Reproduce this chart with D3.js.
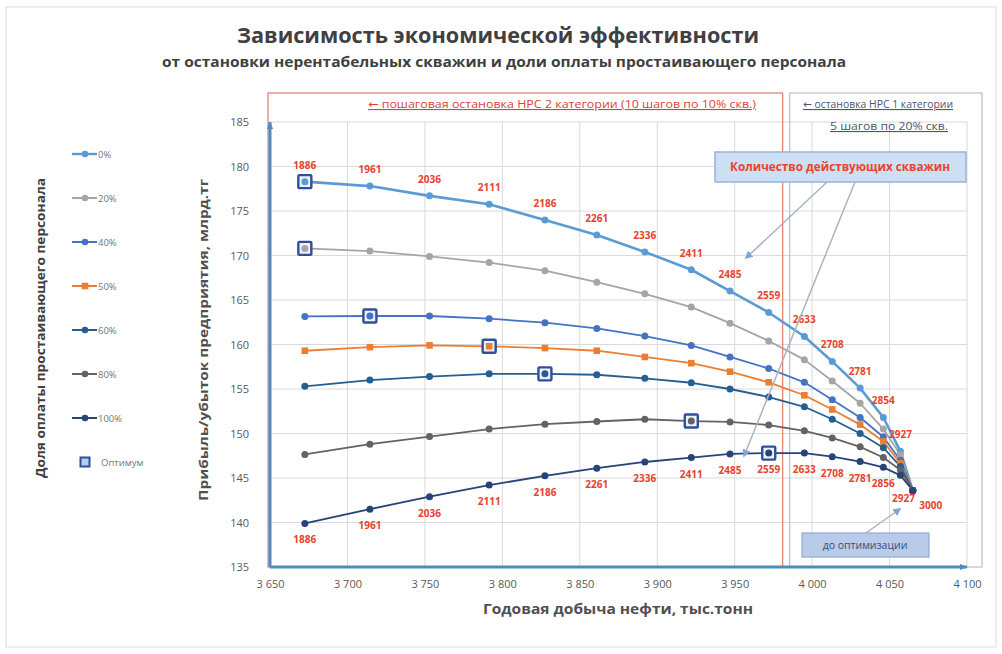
<!DOCTYPE html>
<html><head><meta charset="utf-8">
<script src="https://cdn.jsdelivr.net/npm/d3@7"></script>
<style>body{margin:0;background:#fff}svg{display:block}</style>
</head><body><svg id="c" width="1002" height="654"></svg>
<script>
// ---------- data ----------
const production = [3672.5, 3714.5, 3753, 3791.5, 3827.5, 3861, 3892, 3922, 3947, 3972, 3995, 4013, 4031, 4046, 4057, 4065];
const wells = [1886, 1961, 2036, 2111, 2186, 2261, 2336, 2411, 2485, 2559, 2633, 2708, 2781, 2854, 2927, 3000];
const shares = ["0%", "20%", "40%", "50%", "60%", "80%", "100%"];
const profit0   = [178.3, 177.8, 176.7, 175.75, 174.0, 172.3, 170.4, 168.4, 166.0, 163.6, 160.9, 158.1, 155.1, 151.8, 148.0, 143.6];
const profit20  = [170.8, 170.5, 169.9, 169.2, 168.3, 167.0, 165.7, 164.2, 162.4, 160.4, 158.3, 155.9, 153.4, 150.5, 147.6, 143.6];
const profit40  = [163.15, 163.2, 163.2, 162.9, 162.45, 161.8, 160.95, 159.9, 158.6, 157.3, 155.75, 153.8, 151.8, 149.6, 147.0, 143.6];
const profit50  = [159.3, 159.7, 159.9, 159.8, 159.6, 159.3, 158.6, 157.9, 156.95, 155.75, 154.3, 152.7, 151.0, 149.1, 146.65, 143.6];
const profit60  = [155.3, 156.0, 156.4, 156.7, 156.7, 156.6, 156.2, 155.7, 155.0, 154.1, 153.0, 151.6, 150.0, 148.4, 146.3, 143.6];
const profit80  = [147.65, 148.8, 149.65, 150.5, 151.05, 151.35, 151.6, 151.4, 151.3, 150.95, 150.3, 149.5, 148.5, 147.3, 145.9, 143.6];
const profit100 = [139.9, 141.5, 142.9, 144.2, 145.25, 146.1, 146.8, 147.3, 147.7, 147.8, 147.8, 147.4, 146.85, 146.2, 145.3, 143.6];
const optimumIdx = [0, 0, 1, 3, 4, 7, 9];
const yTicks = [135, 140, 145, 150, 155, 160, 165, 170, 175, 180, 185];
const xTicks = [3650, 3700, 3750, 3800, 3850, 3900, 3950, 4000, 4050, 4100];
const stage1Boundary = 3981;

// ---------- style ----------
const seriesValues = [profit0, profit20, profit40, profit50, profit60, profit80, profit100];
const colors = ["#5b9bd5", "#a5a5a5", "#4472c4", "#ed7d31", "#255e91", "#636363", "#264478"];
const widths = [2.6, 1.8, 1.8, 1.8, 1.8, 1.8, 1.8];
const NARROW = "'Open Sans','DejaVu Sans',sans-serif";
const BOLD = "'Open Sans','DejaVu Sans',sans-serif";
const RED = "#e8432e";

const svg = d3.select("#c");
const x = d3.scaleLinear().domain([3650, 4100]).range([270, 967]);
const y = d3.scaleLinear().domain([135, 185]).range([567, 122]);

svg.append("defs").html(`
 <marker id="arrBlue" viewBox="0 0 10 10" refX="9" refY="5" markerUnits="userSpaceOnUse" markerWidth="8" markerHeight="8" orient="auto"><path d="M0,1L10,5L0,9z" fill="#4f8db8"/></marker>
 <marker id="arrGrey" viewBox="0 0 10 10" refX="8" refY="5" markerUnits="userSpaceOnUse" markerWidth="8" markerHeight="8" orient="auto"><path d="M0,0L10,5L0,10z" fill="#7fa6d0"/></marker>`);

// outer frame
svg.append("rect").attr("x", 6).attr("y", 7).attr("width", 990).attr("height", 640)
  .attr("fill", "none").attr("stroke", "#dcdcdc");

// titles
svg.append("text").attr("x", 498).attr("y", 43).attr("text-anchor", "middle")
  .attr("font-family", BOLD).attr("font-weight", "bold").attr("font-size", 21).attr("fill", "#404040")
  .attr("textLength", 522).attr("lengthAdjust", "spacingAndGlyphs")
  .text("Зависимость экономической эффективности");
svg.append("text").attr("x", 504).attr("y", 67).attr("text-anchor", "middle")
  .attr("font-family", BOLD).attr("font-weight", "bold").attr("font-size", 13.5).attr("fill", "#404040")
  .attr("textLength", 684).attr("lengthAdjust", "spacingAndGlyphs")
  .text("от остановки нерентабельных скважин и доли оплаты простаивающего персонала");

// gridlines
const g = svg.append("g");
g.selectAll("line.h").data(yTicks.filter(d => d > 135)).join("line")
  .attr("x1", x(3650)).attr("x2", x(4100)).attr("y1", d => y(d)).attr("y2", d => y(d))
  .attr("stroke", "#dadada").attr("stroke-width", 1);
g.selectAll("line.v").data(xTicks.filter(d => d > 3650)).join("line")
  .attr("y1", y(185)).attr("y2", y(135)).attr("x1", d => x(d)).attr("x2", d => x(d))
  .attr("stroke", "#dadada").attr("stroke-width", 1);

// stage boxes
svg.append("rect").attr("x", 268).attr("y", 93).attr("width", x(stage1Boundary) - 268).attr("height", y(135) - 93)
  .attr("fill", "none").attr("stroke", "#e47a6c").attr("stroke-width", 1.2);
svg.append("rect").attr("x", x(stage1Boundary) + 7).attr("y", 93).attr("width", 982 - x(stage1Boundary) - 7).attr("height", y(135) - 93)
  .attr("fill", "none").attr("stroke", "#b8c0cc").attr("stroke-width", 1.2);

svg.append("text").attr("x", 562).attr("y", 108).attr("text-anchor", "middle")
  .attr("font-family", NARROW).attr("font-size", 11).attr("fill", "#d9433a")
  .attr("text-decoration", "underline")
  .attr("textLength", 388).attr("lengthAdjust", "spacingAndGlyphs")
  .text("← пошаговая остановка НРС 2 категории (10 шагов по 10% скв.)");
svg.append("text").attr("x", 878).attr("y", 108).attr("text-anchor", "middle")
  .attr("font-family", NARROW).attr("font-size", 11).attr("fill", "#4b5670")
  .attr("text-decoration", "underline")
  .attr("textLength", 150).attr("lengthAdjust", "spacingAndGlyphs")
  .text("← остановка НРС 1 категории");
svg.append("text").attr("x", 889).attr("y", 130).attr("text-anchor", "middle")
  .attr("font-family", NARROW).attr("font-size", 11).attr("fill", "#4b5670")
  .attr("text-decoration", "underline")
  .attr("textLength", 118).attr("lengthAdjust", "spacingAndGlyphs")
  .text("5 шагов по 20% скв.");

// axes (Excel-like with arrows)
svg.append("line").attr("x1", x(3650)).attr("x2", x(3650)).attr("y1", y(135)).attr("y2", y(185))
  .attr("stroke", "#4f8db8").attr("stroke-width", 3).attr("marker-end", "url(#arrBlue)");
svg.append("line").attr("x1", x(3650)).attr("x2", x(4100)).attr("y1", y(135)).attr("y2", y(135))
  .attr("stroke", "#4f8db8").attr("stroke-width", 3).attr("marker-end", "url(#arrBlue)");

const yAxis = d3.axisLeft(y).tickValues(yTicks).tickSize(0).tickPadding(0);
const ya = svg.append("g").attr("transform", "translate(249,0)").call(yAxis);
ya.select(".domain").remove();
ya.selectAll("text").attr("font-family", NARROW).attr("font-size", 11).attr("fill", "#595959");

const fmt = d => d3.format(",")(d).replace(",", " ");
const xAxis = d3.axisBottom(x).tickValues(xTicks).tickFormat(fmt).tickSize(0).tickPadding(0);
const xa = svg.append("g").attr("transform", "translate(0,580)").call(xAxis);
xa.select(".domain").remove();
xa.selectAll("text").attr("font-family", NARROW).attr("font-size", 11).attr("fill", "#595959");

// axis titles
svg.append("text").attr("transform", "translate(208,340) rotate(-90)").attr("text-anchor", "middle")
  .attr("font-family", BOLD).attr("font-weight", "bold").attr("font-size", 13).attr("fill", "#505050")
  .attr("textLength", 322).attr("lengthAdjust", "spacingAndGlyphs")
  .text("Прибыль/убыток предприятия, млрд.тг");
svg.append("text").attr("x", 618).attr("y", 614).attr("text-anchor", "middle")
  .attr("font-family", BOLD).attr("font-weight", "bold").attr("font-size", 13.5).attr("fill", "#505050")
  .attr("textLength", 270).attr("lengthAdjust", "spacingAndGlyphs")
  .text("Годовая добыча нефти, тыс.тонн");
svg.append("text").attr("transform", "translate(45,328) rotate(-90)").attr("text-anchor", "middle")
  .attr("font-family", BOLD).attr("font-weight", "bold").attr("font-size", 12.5).attr("fill", "#404040")
  .attr("textLength", 300).attr("lengthAdjust", "spacingAndGlyphs")
  .text("Доля оплаты простаивающего персонала");

// series
const line = d3.line().x((d, i) => x(production[i])).y(d => y(d));
seriesValues.forEach((vals, s) => {
  svg.append("path").datum(vals).attr("d", line).attr("fill", "none")
    .attr("stroke", colors[s]).attr("stroke-width", widths[s]).attr("stroke-linejoin", "round");
});
// optimum squares
seriesValues.forEach((vals, s) => {
  const i = optimumIdx[s];
  svg.append("rect").attr("x", x(production[i]) - 6.5).attr("y", y(vals[i]) - 6.5)
    .attr("width", 13).attr("height", 13).attr("rx", 1)
    .attr("fill", "#eef3fb").attr("stroke", "#2f4f9a").attr("stroke-width", 2.4);
});
// markers
seriesValues.forEach((vals, s) => {
  const gm = svg.append("g");
  if (s === 3) {
    gm.selectAll("rect").data(vals).join("rect")
      .attr("x", (d, i) => x(production[i]) - 3.3).attr("y", d => y(d) - 3.3)
      .attr("width", 6.6).attr("height", 6.6).attr("fill", colors[s]);
  } else {
    gm.selectAll("circle").data(vals).join("circle")
      .attr("cx", (d, i) => x(production[i])).attr("cy", d => y(d)).attr("r", 3.5).attr("fill", colors[s]);
  }
});

// well-count labels
const lab = svg.append("g").attr("font-family", NARROW).attr("font-weight", "bold")
  .attr("font-size", 10).attr("fill", RED).attr("text-anchor", "middle");
const addLab = (px, py, t) => lab.append("text").attr("x", px).attr("y", py)
  .attr("textLength", 23).attr("lengthAdjust", "spacingAndGlyphs").text(t);
wells.slice(0, -1).forEach((w, i) => {
  addLab(x(production[i]), y(profit0[i]) - 13, w);
  if (i === 14) addLab(x(production[i]) + 3, y(profit100[i]) + 27, w);
  else addLab(x(production[i]), y(profit100[i]) + 20, w === 2854 ? 2856 : w);
});
addLab(x(production[15]) + 18, y(profit0[15]) + 19, wells[15]);

// callout box: number of active wells
svg.append("rect").attr("x", 715).attr("y", 152).attr("width", 251).attr("height", 30)
  .attr("fill", "#cddff2").attr("stroke", "#92b4da").attr("stroke-width", 1.5);
svg.append("text").attr("x", 840).attr("y", 171).attr("text-anchor", "middle")
  .attr("font-family", NARROW).attr("font-weight", "bold").attr("font-size", 11.5).attr("fill", RED)
  .attr("textLength", 220).attr("lengthAdjust", "spacingAndGlyphs")
  .text("Количество действующих скважин");
svg.append("line").attr("x1", 827).attr("y1", 182).attr("x2", 746).attr("y2", 258)
  .attr("stroke", "#a9b4c2").attr("stroke-width", 1.5).attr("marker-end", "url(#arrGrey)");
svg.append("line").attr("x1", 855).attr("y1", 182).attr("x2", 744).attr("y2", 456)
  .attr("stroke", "#a9b4c2").attr("stroke-width", 1.5).attr("marker-end", "url(#arrGrey)");

// callout box: before optimisation
svg.append("line").attr("x1", 866).attr("y1", 533).attr("x2", 900).attr("y2", 509)
  .attr("stroke", "#a9b4c2").attr("stroke-width", 1.5).attr("marker-end", "url(#arrGrey)");
svg.append("rect").attr("x", 802).attr("y", 533).attr("width", 127).attr("height", 24)
  .attr("fill", "#b9cbe8").attr("stroke", "#90a9d6").attr("stroke-width", 1.2);
svg.append("text").attr("x", 865).attr("y", 549).attr("text-anchor", "middle")
  .attr("font-family", NARROW).attr("font-size", 10.5).attr("fill", "#34507e")
  .text("до оптимизации");

// legend
const lg = svg.append("g");
shares.forEach((s, i) => {
  const ly = 154 + i * 44;
  lg.append("line").attr("x1", 72).attr("x2", 97).attr("y1", ly).attr("y2", ly)
    .attr("stroke", colors[i]).attr("stroke-width", i === 0 ? 2.4 : 2);
  if (i === 3) lg.append("rect").attr("x", 81.7).attr("y", ly - 3.3).attr("width", 6.6).attr("height", 6.6).attr("fill", colors[i]);
  else lg.append("circle").attr("cx", 85).attr("cy", ly).attr("r", 3.3).attr("fill", colors[i]);
  lg.append("text").attr("x", 98).attr("y", ly + 3.5).attr("font-family", NARROW).attr("font-size", 9.5)
    .attr("fill", "#767676").text(s);
});
lg.append("rect").attr("x", 80.5).attr("y", 457.5).attr("width", 9).attr("height", 9)
  .attr("fill", "#b7cdea").attr("stroke", "#2f4f9a").attr("stroke-width", 2);
lg.append("text").attr("x", 101).attr("y", 465.5).attr("font-family", NARROW).attr("font-size", 9.5)
  .attr("fill", "#767676").text("Оптимум");
</script></body></html>
